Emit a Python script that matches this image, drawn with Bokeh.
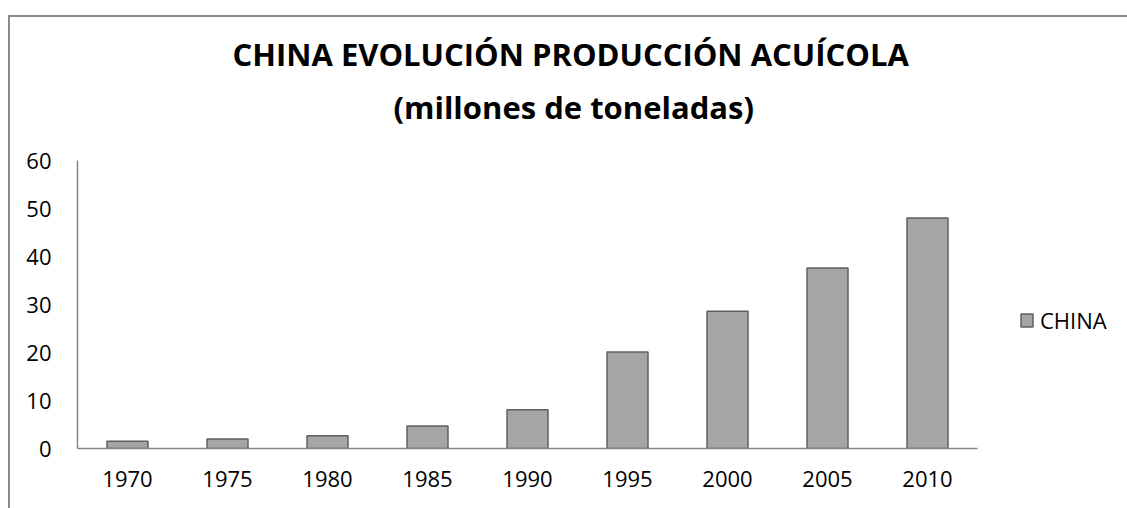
from bokeh.plotting import figure
from bokeh.models import Range1d, Legend, LegendItem, Title, ColumnDataSource, FixedTicker
from bokeh.embed import file_html
from bokeh.resources import INLINE

years = ["1970", "1975", "1980", "1985", "1990", "1995", "2000", "2005", "2010"]
china = [1.5, 2.0, 2.65, 4.7, 8.05, 20.1, 28.6, 37.6, 48.0]
y_ticks = [0, 10, 20, 30, 40, 50, 60]
title_line1 = "CHINA EVOLUCIÓN PRODUCCIÓN ACUÍCOLA"
title_line2 = "(millones de toneladas)"
series_name = "CHINA"

FONT = "Open Sans"

# category slots: each category occupies one unit, centred at i + 0.5
xpos = [i + 0.5 for i in range(len(years))]
src = ColumnDataSource(dict(x=xpos, value=china))

p = figure(
    width=1127, height=508,
    x_range=Range1d(0, 10.5),
    y_range=Range1d(0, 60),
    output_backend="svg", toolbar_location=None,
    min_border_left=77, min_border_right=0,
    min_border_top=160, min_border_bottom=60,
)
p.border_fill_color = None
p.background_fill_color = None
p.styles = {
    "background-color": "#ffffff",
    "background-image": "linear-gradient(#8a8a8a,#8a8a8a), linear-gradient(#8a8a8a,#8a8a8a)",
    "background-size": "2px 100%, 100% 2px",
    "background-position": "8px 15px, 8px 15px",
    "background-repeat": "no-repeat",
}

r = p.vbar(x="x", top="value", width=0.41, source=src,
           fill_color="#a5a5a5", line_color="#606060", line_width=1.5)

p.add_layout(Title(text=title_line2, text_font=FONT, text_font_size="31px",
                   text_font_style="bold", text_color="#000000", align="left",
                   offset=316, standoff=65), "above")
p.add_layout(Title(text=title_line1, text_font=FONT, text_font_size="31px",
                   text_font_style="bold", text_color="#000000", align="left",
                   offset=155, standoff=-46), "above")

p.xgrid.visible = False
p.ygrid.visible = False
p.outline_line_color = None

p.xaxis.ticker = FixedTicker(ticks=xpos)
p.xaxis.major_label_overrides = {x: y for x, y in zip(xpos, years)}
p.xaxis.bounds = (0, len(years))
p.yaxis.ticker = FixedTicker(ticks=y_ticks)
for ax in (p.xaxis[0], p.yaxis[0]):
    ax.axis_line_color = "#868686"
    ax.axis_line_width = 1.5
    ax.major_tick_line_color = None
    ax.minor_tick_line_color = None
    ax.major_label_text_font = FONT
    ax.major_label_text_font_size = "22px"
    ax.major_label_text_color = "#000000"
p.yaxis.major_label_standoff = 20
p.xaxis.major_label_standoff = 16

legend = Legend(items=[LegendItem(label=series_name, renderers=[r])],
                location=(942, 113), orientation="vertical",
                label_text_font=FONT, label_text_font_size="22px",
                label_text_color="#000000",
                glyph_width=15, glyph_height=16, label_standoff=6,
                border_line_color=None, background_fill_alpha=0,
                margin=0, padding=0)
p.add_layout(legend)

open("out.html", "w").write(file_html(p, INLINE))
